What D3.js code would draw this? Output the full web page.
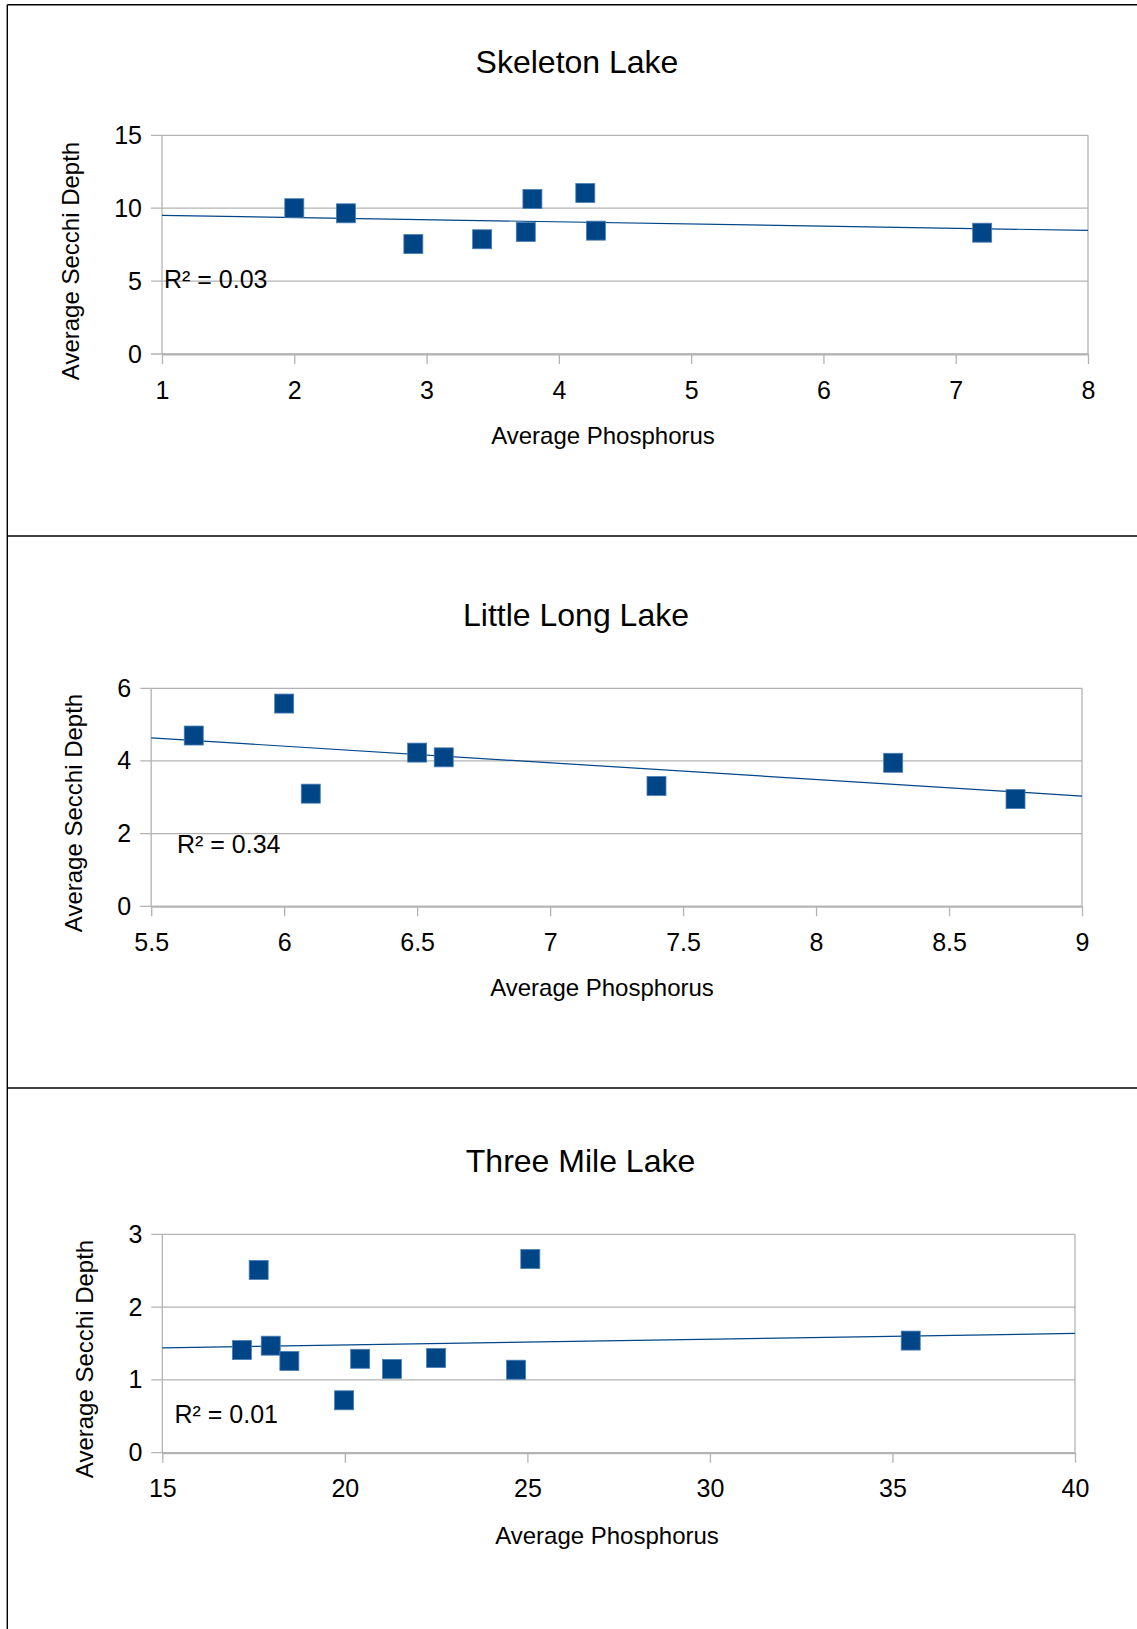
<!DOCTYPE html>
<html>
<head>
<meta charset="utf-8">
<script src="https://cdn.jsdelivr.net/npm/d3@7"></script>
<style>
  body { margin: 0; background: #fff; }
  svg text { font-family: "Liberation Sans", Arial, sans-serif; fill: #000; }
</style>
</head>
<body>
<div id="chart"></div>
<script>
// Values
const lakeTitles = ['Skeleton Lake', 'Little Long Lake', 'Three Mile Lake'];

const skeletonPhosphorus = [2.0, 2.39, 2.9, 3.42, 3.75, 3.8, 4.2, 4.28, 7.2];
const skeletonSecchi = [10.0, 9.65, 7.54, 7.87, 8.37, 10.63, 11.04, 8.46, 8.32];

const littleLongPhosphorus = [5.66, 6.0, 6.1, 6.5, 6.6, 7.4, 8.29, 8.75];
const littleLongSecchi = [4.7, 5.58, 3.1, 4.23, 4.1, 3.31, 3.95, 2.95];

const threeMilePhosphorus = [17.64, 17.18, 17.97, 18.48, 19.98, 20.42, 21.29, 22.5, 24.69, 25.08, 35.5];
const threeMileSecchi = [2.51, 1.41, 1.47, 1.26, 0.72, 1.29, 1.15, 1.3, 1.14, 2.66, 1.54];

const rSquaredLabels = ['0.03', '0.34', '0.01'];

const xDomains = [[1, 8], [5.5, 9], [15, 40]];
const yDomains = [[0, 15], [0, 6], [0, 3]];
const xTickValues = [
    [1, 2, 3, 4, 5, 6, 7, 8],
    [5.5, 6, 6.5, 7, 7.5, 8, 8.5, 9],
    [15, 20, 25, 30, 35, 40]
];
const yTickValues = [[0, 5, 10, 15], [0, 2, 4, 6], [0, 1, 2, 3]];

const xAxisTitle = 'Average Phosphorus';
const yAxisTitle = 'Average Secchi Depth';

const phosphorusSeries = [skeletonPhosphorus, littleLongPhosphorus, threeMilePhosphorus];
const secchiSeries = [skeletonSecchi, littleLongSecchi, threeMileSecchi];

// Page layout (pixel positions of each panel)
const W = 1137, H = 1629;
const panels = [
    { left: 162, right: 1088, top: 135.3, bottom: 354, titleX: 577, titleY: 72.7,
      xTitleX: 603, xTitleY: 444, yTitleX: 78.5, yTitleY: 261, r2X: 164, r2Y: 288.3 },
    { left: 151.2, right: 1082, top: 688.3, bottom: 906.3, titleX: 576, titleY: 625.6,
      xTitleX: 602, xTitleY: 996, yTitleX: 81.5, yTitleY: 813, r2X: 177, r2Y: 853.3 },
    { left: 162.3, right: 1075, top: 1234.3, bottom: 1452.7, titleX: 580.5, titleY: 1172.3,
      xTitleX: 607, xTitleY: 1544, yTitleX: 93, yTitleY: 1359, r2X: 174.5, r2Y: 1422.7 }
];

const markerColor = '#004586';
const gridColor = '#b3b3b3';
const markerSize = 19;

const svg = d3.select('#chart')
    .append('svg')
    .attr('width', W)
    .attr('height', H);

svg.append('rect').attr('width', W).attr('height', H).attr('fill', '#fff');

// Outer frame and panel separators
const frame = svg.append('g').attr('stroke', '#000').attr('stroke-width', 1.4);
frame.append('line').attr('x1', 7.3).attr('x2', 7.3).attr('y1', 4.7).attr('y2', H);
[4.7, 536, 1088].forEach(y => {
    frame.append('line').attr('x1', 7.3).attr('x2', W).attr('y1', y).attr('y2', y);
});

// Least-squares fit, used for the trend line
function linearFit(xs, ys) {
    const mx = d3.mean(xs), my = d3.mean(ys);
    let sxy = 0, sxx = 0;
    xs.forEach((x, i) => {
        sxy += (x - mx) * (ys[i] - my);
        sxx += (x - mx) * (x - mx);
    });
    const slope = sxy / sxx;
    return x => my + slope * (x - mx);
}

panels.forEach((p, i) => {
    const x = d3.scaleLinear().domain(xDomains[i]).range([p.left, p.right]);
    const y = d3.scaleLinear().domain(yDomains[i]).range([p.bottom, p.top]);
    const g = svg.append('g');

    // Title
    g.append('text')
        .attr('x', p.titleX)
        .attr('y', p.titleY)
        .attr('text-anchor', 'middle')
        .style('font-size', '32px')
        .text(lakeTitles[i]);

    // Horizontal gridlines with left tick stubs
    g.append('g')
        .selectAll('line')
        .data(yTickValues[i])
        .join('line')
        .attr('x1', p.left - 11)
        .attr('x2', p.right)
        .attr('y1', d => y(d))
        .attr('y2', d => y(d))
        .attr('stroke', gridColor)
        .attr('stroke-width', 1.3);

    // Left and right plot edges
    [p.left, p.right].forEach(xx => {
        g.append('line')
            .attr('x1', xx).attr('x2', xx)
            .attr('y1', p.top).attr('y2', p.bottom)
            .attr('stroke', gridColor)
            .attr('stroke-width', 1.3);
    });

    // X axis
    const xAxis = g.append('g')
        .attr('transform', `translate(0,${p.bottom})`)
        .call(d3.axisBottom(x)
            .tickValues(xTickValues[i])
            .tickFormat(d => String(d))
            .tickSize(10)
            .tickSizeOuter(0)
            .tickPadding(17));
    xAxis.select('.domain').attr('stroke', gridColor).attr('stroke-width', 2);
    xAxis.selectAll('.tick line').attr('stroke', gridColor).attr('stroke-width', 1.3);
    xAxis.selectAll('.tick text')
        .attr('fill', '#000')
        .style('font-family', '"Liberation Sans", Arial, sans-serif')
        .style('font-size', '25px');

    // Y axis labels
    const yAxis = g.append('g')
        .attr('transform', `translate(${p.left},0)`)
        .call(d3.axisLeft(y)
            .tickValues(yTickValues[i])
            .tickFormat(d => String(d))
            .tickSize(0)
            .tickPadding(20));
    yAxis.select('.domain').remove();
    yAxis.selectAll('.tick text')
        .attr('fill', '#000')
        .style('font-family', '"Liberation Sans", Arial, sans-serif')
        .style('font-size', '25px');

    // Axis titles
    g.append('text')
        .attr('x', p.xTitleX)
        .attr('y', p.xTitleY)
        .attr('text-anchor', 'middle')
        .style('font-size', '24px')
        .text(xAxisTitle);

    g.append('text')
        .attr('transform', `translate(${p.yTitleX},${p.yTitleY}) rotate(-90)`)
        .attr('text-anchor', 'middle')
        .style('font-size', '24px')
        .text(yAxisTitle);

    // Trend line
    const fit = linearFit(phosphorusSeries[i], secchiSeries[i]);
    const [x0, x1] = xDomains[i];
    g.append('line')
        .attr('x1', x(x0)).attr('y1', y(fit(x0)))
        .attr('x2', x(x1)).attr('y2', y(fit(x1)))
        .attr('stroke', markerColor)
        .attr('stroke-width', 1.2);

    // Points
    const pts = phosphorusSeries[i].map((v, k) => ({ px: v, sd: secchiSeries[i][k] }));
    g.append('g')
        .selectAll('rect')
        .data(pts)
        .join('rect')
        .attr('x', d => x(d.px) - markerSize / 2)
        .attr('y', d => y(d.sd) - markerSize / 2)
        .attr('width', markerSize)
        .attr('height', markerSize)
        .attr('fill', markerColor)
        .attr('stroke', '#4a7fb5')
        .attr('stroke-width', 0.8);

    // R² label
    g.append('text')
        .attr('x', p.r2X)
        .attr('y', p.r2Y)
        .style('font-size', '25px')
        .text(`R² = ${rSquaredLabels[i]}`);
});
</script>
</body>
</html>
